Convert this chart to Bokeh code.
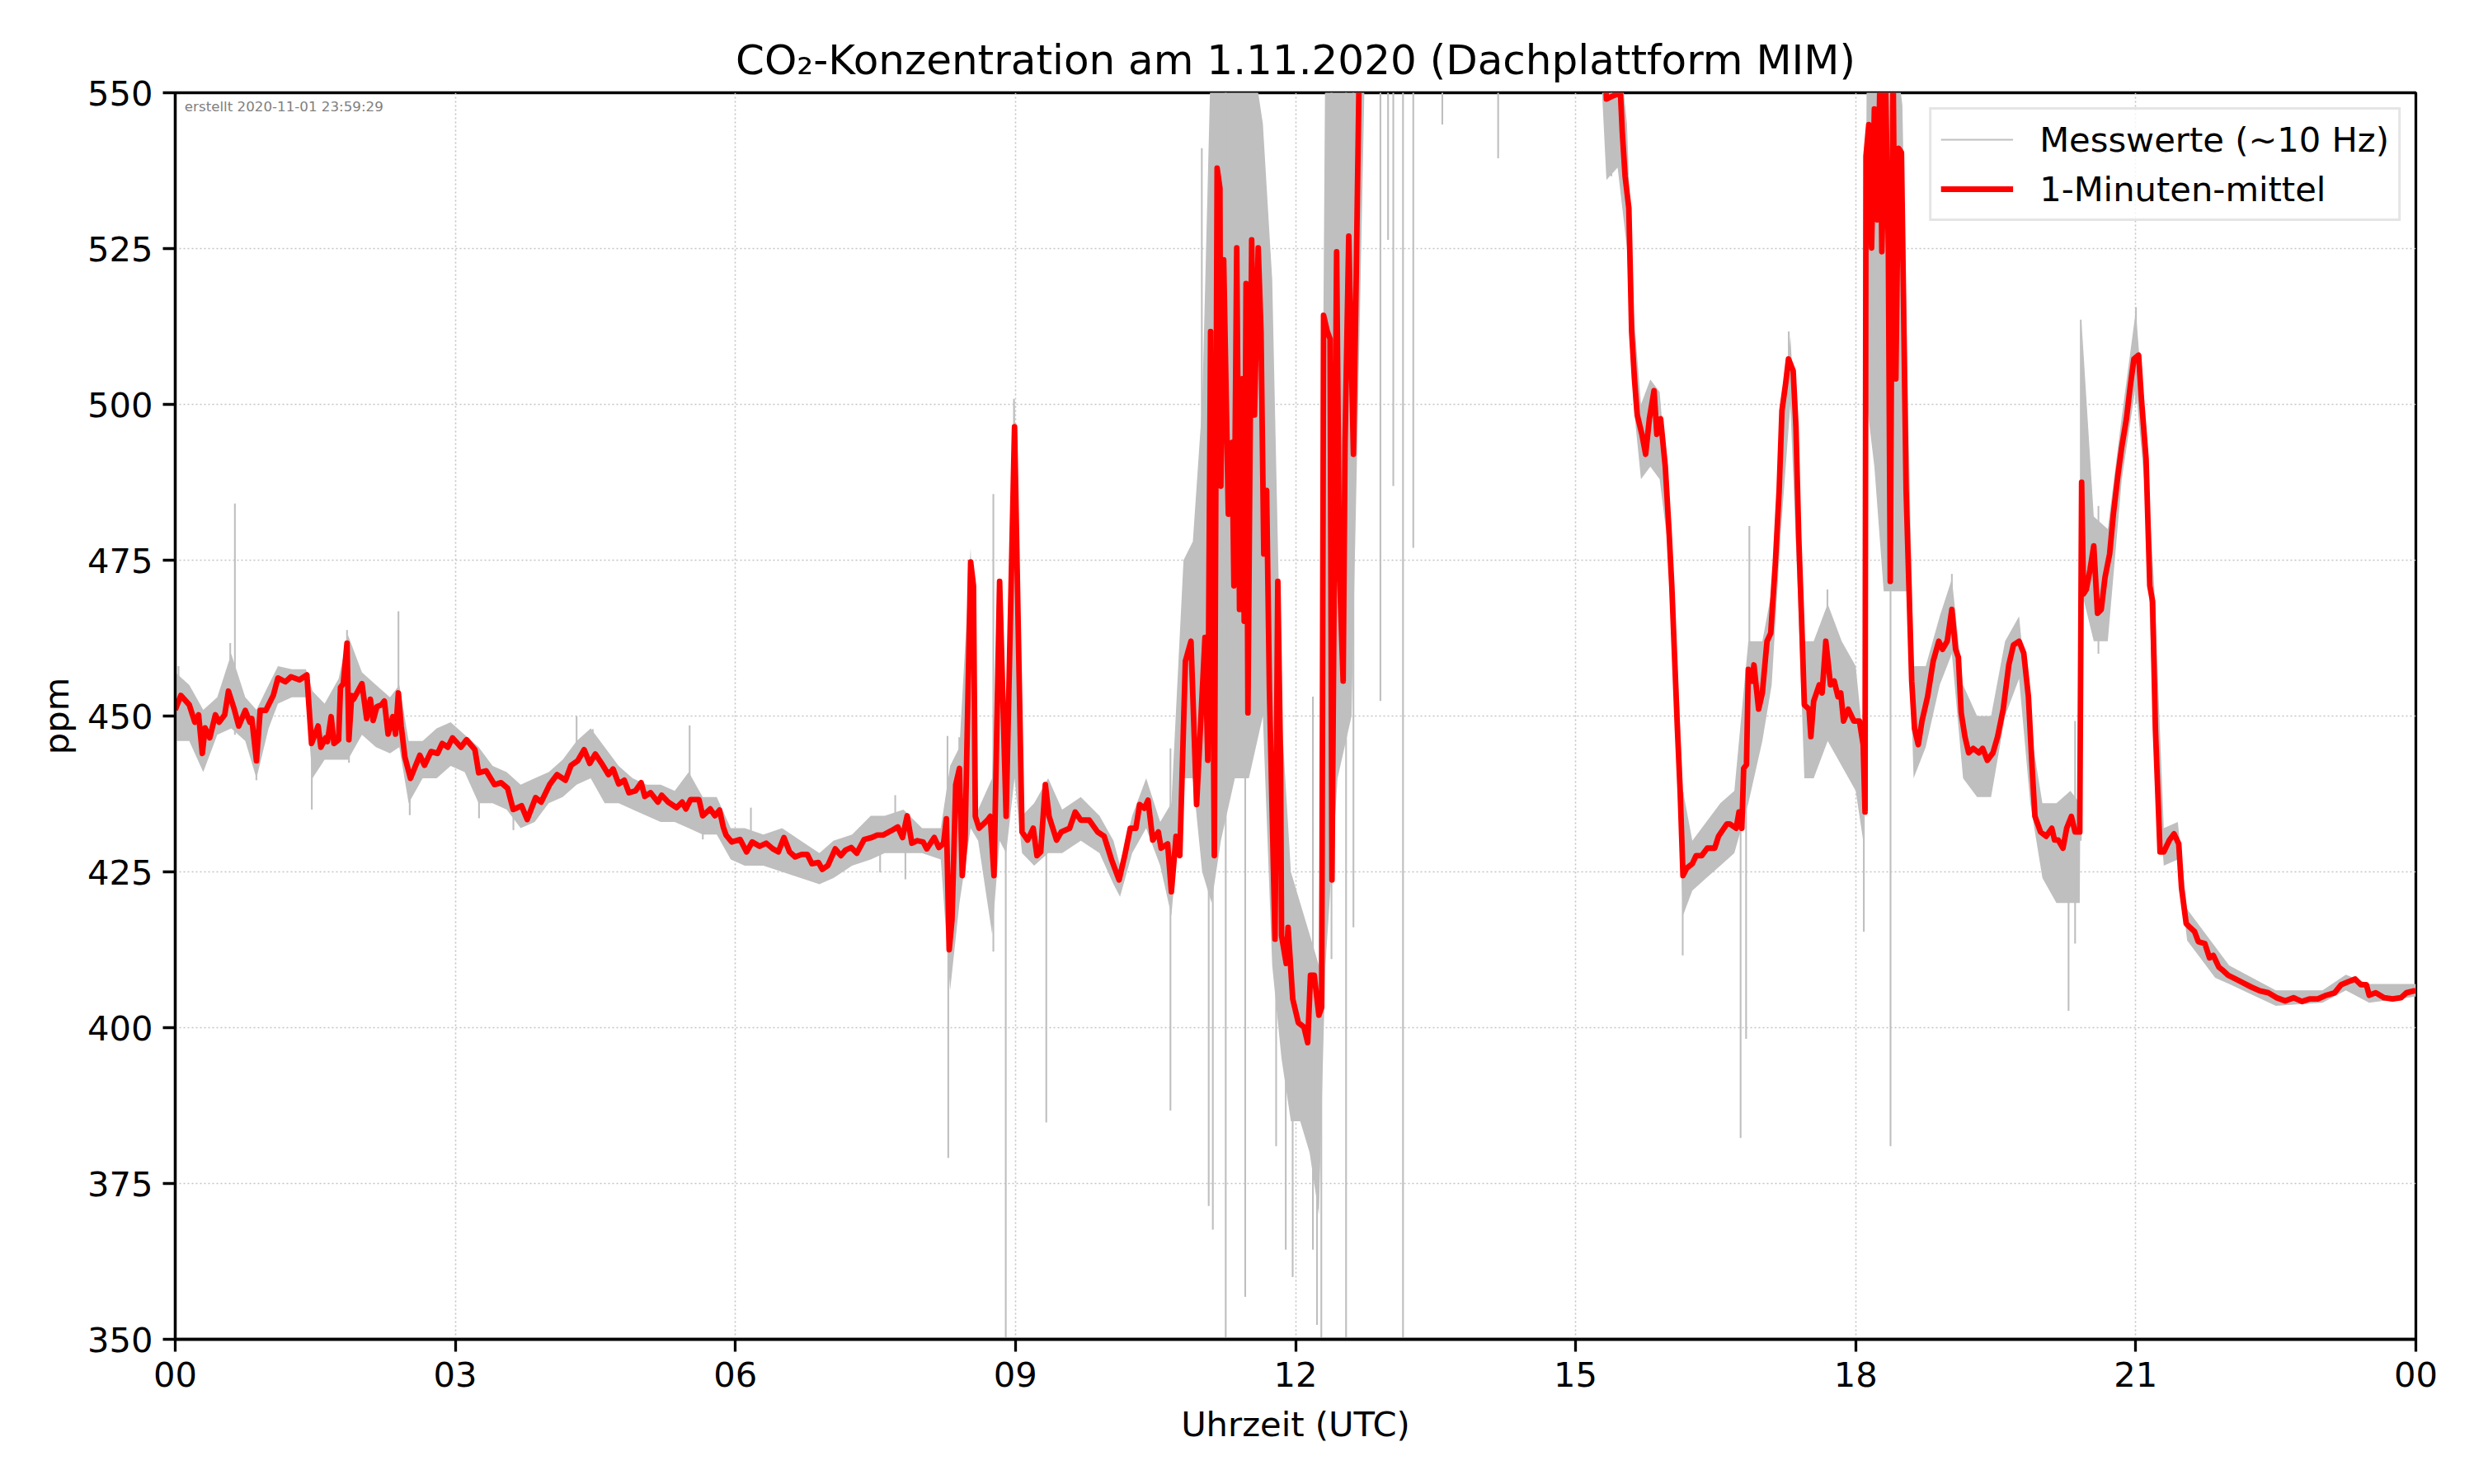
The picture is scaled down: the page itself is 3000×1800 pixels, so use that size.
from bokeh.plotting import figure
from bokeh.models import Range1d, FixedTicker, Legend, LegendItem, Label
from bokeh.embed import file_html
from bokeh.resources import INLINE

# ---------------- data ----------------
x_ticks = [0, 3, 6, 9, 12, 15, 18, 21, 24]
x_tick_labels = ["00", "03", "06", "09", "12", "15", "18", "21", "00"]
y_ticks = [350, 375, 400, 425, 450, 475, 500, 525, 550]

# 1-Minuten-mittel (hours UTC, ppm)
red_t = [0.00, 0.06, 0.15, 0.21, 0.25, 0.29, 0.32, 0.37, 0.43, 0.47, 0.53, 0.57, 0.63, 0.68, 0.75, 0.80, 0.82, 0.87, 0.91, 0.97,
         1.05, 1.10, 1.18, 1.24, 1.33, 1.41, 1.43, 1.46, 1.53, 1.56, 1.61, 1.63, 1.67, 1.70, 1.75, 1.77, 1.80, 1.84, 1.86, 1.89,
         1.91, 2.00, 2.05, 2.09, 2.12, 2.16, 2.21, 2.24, 2.28, 2.33, 2.36, 2.39, 2.42, 2.46, 2.52, 2.56, 2.62, 2.67, 2.74, 2.81,
         2.86, 2.92, 2.97, 3.06, 3.12, 3.21, 3.25, 3.33, 3.42, 3.49, 3.56, 3.62, 3.71, 3.77, 3.86, 3.92, 4.01, 4.09, 4.18, 4.24,
         4.31, 4.38, 4.44, 4.50, 4.58, 4.64, 4.69, 4.75, 4.81, 4.86, 4.93, 4.99, 5.03, 5.09, 5.17, 5.21, 5.28, 5.37, 5.43, 5.47,
         5.52, 5.61, 5.65, 5.73, 5.78, 5.83, 5.87, 5.90, 5.96, 6.05, 6.12, 6.18, 6.26, 6.33, 6.40, 6.46, 6.52, 6.58, 6.64, 6.71,
         6.77, 6.82, 6.89, 6.93, 6.99, 7.07, 7.13, 7.18, 7.24, 7.30, 7.38, 7.46, 7.52, 7.58, 7.67, 7.74, 7.79, 7.84, 7.89, 7.95,
         8.01, 8.05, 8.13, 8.18, 8.23, 8.26, 8.29, 8.32, 8.36, 8.40, 8.43, 8.46, 8.52, 8.55, 8.57, 8.61, 8.70, 8.73, 8.77, 8.83,
         8.90, 8.99, 9.07, 9.13, 9.19, 9.23, 9.27, 9.32, 9.36, 9.44, 9.49, 9.58, 9.64, 9.70, 9.79, 9.88, 9.95, 10.03, 10.11, 10.17,
         10.23, 10.29, 10.33, 10.38, 10.42, 10.47, 10.53, 10.56, 10.63, 10.67, 10.72, 10.76, 10.82, 10.88, 10.94, 11.03, 11.06, 11.09, 11.13, 11.16,
         11.19, 11.20, 11.23, 11.28, 11.32, 11.34, 11.37, 11.40, 11.43, 11.45, 11.47, 11.49, 11.53, 11.56, 11.60, 11.63, 11.66, 11.69, 11.72, 11.78,
         11.81, 11.84, 11.85, 11.90, 11.92, 11.97, 12.03, 12.09, 12.13, 12.16, 12.20, 12.25, 12.28, 12.30, 12.34, 12.37, 12.39, 12.44, 12.47, 12.51,
         12.53, 12.57, 12.62, 12.65, 12.68, 12.75, 15.25, 15.33, 15.40, 15.48, 15.50, 15.53, 15.57, 15.60, 15.63, 15.66, 15.71, 15.75, 15.79, 15.84,
         15.87, 15.91, 15.96, 16.00, 16.03, 16.09, 16.12, 16.15, 16.19, 16.25, 16.29, 16.35, 16.41, 16.49, 16.53, 16.62, 16.65, 16.72, 16.75, 16.78,
         16.80, 16.83, 16.85, 16.89, 16.91, 16.96, 17.00, 17.05, 17.09, 17.14, 17.18, 17.21, 17.25, 17.28, 17.33, 17.36, 17.39, 17.42, 17.45, 17.50,
         17.52, 17.55, 17.61, 17.64, 17.68, 17.73, 17.77, 17.81, 17.84, 17.87, 17.92, 17.98, 18.04, 18.08, 18.10, 18.11, 18.14, 18.17, 18.20, 18.23,
         18.26, 18.28, 18.32, 18.35, 18.37, 18.40, 18.43, 18.46, 18.49, 18.54, 18.57, 18.60, 18.63, 18.67, 18.71, 18.77, 18.83, 18.89, 18.93, 18.98,
         19.03, 19.07, 19.10, 19.13, 19.17, 19.21, 19.26, 19.32, 19.36, 19.41, 19.47, 19.52, 19.58, 19.64, 19.69, 19.75, 19.80, 19.85, 19.89, 19.92,
         19.98, 20.04, 20.10, 20.13, 20.17, 20.22, 20.26, 20.31, 20.35, 20.40, 20.42, 20.44, 20.47, 20.51, 20.55, 20.59, 20.63, 20.67, 20.72, 20.76,
         20.81, 20.85, 20.90, 20.94, 20.98, 21.03, 21.06, 21.11, 21.15, 21.18, 21.21, 21.26, 21.30, 21.36, 21.41, 21.46, 21.49, 21.54, 21.58, 21.63,
         21.67, 21.74, 21.79, 21.83, 21.89, 21.94, 21.99, 22.07, 22.16, 22.24, 22.33, 22.42, 22.51, 22.60, 22.69, 22.78, 22.86, 22.95, 23.04, 23.13,
         23.20, 23.28, 23.35, 23.41, 23.47, 23.50, 23.57, 23.66, 23.75, 23.84, 23.90, 23.98, 24.00]
red_v = [451.0, 453.3, 451.8, 449.0, 450.2, 444.0, 448.1, 446.5, 450.2, 449.0, 450.2, 454.0, 451.2, 448.4, 450.9, 449.0, 449.6, 442.8, 450.9, 450.9,
         453.3, 456.1, 455.5, 456.3, 455.8, 456.6, 452.1, 445.6, 448.4, 445.0, 446.5, 445.9, 449.9, 445.6, 446.2, 454.6, 455.2, 461.7, 446.2, 453.3,
         452.7, 455.2, 449.6, 452.7, 449.3, 451.5, 451.8, 452.4, 447.1, 449.9, 447.1, 453.7, 448.4, 443.4, 440.0, 441.5, 443.7, 442.1, 444.3, 444.0,
         445.6, 445.0, 446.5, 445.0, 446.2, 444.6, 440.9, 441.2, 439.0, 439.3, 438.4, 435.0, 435.6, 433.4, 436.9, 436.2, 439.0, 440.6, 439.7, 442.1,
         442.8, 444.6, 442.4, 443.9, 442.1, 440.6, 441.5, 439.1, 439.7, 437.7, 438.0, 439.3, 437.1, 437.7, 436.2, 437.3, 436.2, 435.3, 436.2, 435.1,
         436.6, 436.6, 434.0, 435.1, 434.0, 434.9, 432.2, 430.9, 429.8, 430.2, 428.2, 429.8, 429.1, 429.6, 428.7, 428.2, 430.5, 428.2, 427.4, 427.8,
         427.8, 426.3, 426.5, 425.4, 426.0, 428.7, 427.6, 428.5, 428.9, 428.0, 430.2, 430.5, 430.9, 430.9, 431.6, 432.2, 430.5, 434.0, 429.6, 430.0,
         429.8, 428.7, 430.5, 428.9, 429.6, 433.5, 412.5, 417.3, 439.0, 441.6, 424.4, 430.1, 474.7, 470.9, 433.9, 432.0, 433.3, 433.9, 424.4, 471.6,
         433.9, 496.4, 431.4, 430.1, 432.0, 427.6, 428.2, 439.0, 433.9, 430.1, 431.4, 432.0, 434.6, 433.3, 433.3, 431.4, 430.7, 426.9, 423.7, 427.6,
         432.0, 432.0, 435.8, 435.2, 436.5, 430.1, 431.4, 428.8, 429.5, 421.8, 430.7, 427.6, 458.8, 462.0, 435.8, 462.6, 442.9, 511.7, 427.6, 537.9,
         534.7, 486.9, 523.2, 482.4, 493.9, 470.9, 525.1, 467.1, 504.1, 465.2, 519.4, 450.5, 526.4, 498.3, 525.1, 511.7, 476.0, 486.2, 454.3, 414.2,
         471.6, 441.6, 414.8, 410.3, 416.1, 404.6, 400.8, 400.1, 397.6, 408.4, 408.4, 402.0, 403.3, 514.3, 511.7, 510.5, 423.7, 524.5, 473.5, 455.6,
         493.9, 527.0, 492.0, 520.7, 552.0, 580.0, 580.0, 549.0, 549.5, 550.0, 543.6, 536.6, 531.5, 511.7, 504.1, 498.3, 495.2, 492.0, 497.7, 502.2,
         495.2, 497.7, 490.1, 479.8, 470.9, 448.0, 437.8, 424.4, 425.6, 426.3, 427.6, 427.6, 428.8, 428.8, 430.7, 432.7, 432.7, 432.0, 434.6, 432.0,
         441.6, 442.2, 457.5, 455.6, 458.2, 451.1, 453.7, 462.0, 463.3, 474.7, 486.2, 499.0, 503.4, 507.3, 505.4, 496.4, 478.6, 465.8, 451.8, 451.1,
         446.7, 452.4, 455.0, 453.7, 462.0, 455.0, 455.6, 453.1, 453.7, 449.2, 451.1, 449.2, 449.2, 445.4, 434.6, 539.8, 544.9, 525.1, 547.4, 529.6,
         552.0, 524.5, 552.0, 524.5, 471.6, 555.0, 504.1, 541.1, 540.4, 486.2, 470.9, 455.6, 448.0, 445.4, 449.2, 453.1, 458.8, 462.0, 460.7, 462.0,
         467.1, 460.7, 459.4, 450.5, 446.7, 444.1, 444.8, 444.1, 444.8, 442.9, 444.1, 446.7, 451.1, 458.2, 461.4, 462.0, 460.1, 453.1, 441.6, 433.9,
         431.4, 430.7, 432.0, 430.1, 430.1, 428.8, 432.0, 433.9, 431.4, 431.4, 487.5, 469.6, 470.3, 473.5, 477.3, 466.5, 467.1, 472.2, 476.0, 482.4,
         488.8, 493.2, 497.7, 502.8, 507.3, 507.9, 501.0, 491.3, 470.9, 468.4, 448.0, 428.2, 428.2, 430.1, 431.1, 429.5, 422.4, 416.7, 416.1, 415.4,
         413.8, 413.5, 411.2, 411.6, 409.7, 409.1, 408.4, 407.8, 407.1, 406.5, 405.9, 405.6, 404.8, 404.3, 404.8, 404.2, 404.6, 404.6, 405.2, 405.6,
         406.9, 407.4, 407.8, 406.9, 406.9, 405.2, 405.6, 404.8, 404.6, 404.8, 405.6, 405.9, 405.9]

# Messwerte (~10 Hz): envelope of the raw samples (hours, low ppm, high ppm)
gray_t = [0.00, 0.15, 0.30, 0.45, 0.60, 0.75, 0.87, 1.00, 1.10, 1.25, 1.40, 1.47, 1.60, 1.75, 1.85, 2.00, 2.15, 2.30, 2.40, 2.50,
          2.65, 2.80, 2.95, 3.10, 3.25, 3.40, 3.55, 3.70, 3.85, 4.00, 4.15, 4.30, 4.45, 4.60, 4.75, 4.90, 5.05, 5.20, 5.35, 5.50,
          5.65, 5.80, 5.95, 6.10, 6.30, 6.50, 6.70, 6.90, 7.05, 7.25, 7.45, 7.60, 7.80, 8.00, 8.20, 8.30, 8.40, 8.52, 8.60, 8.75,
          8.83, 8.90, 8.99, 9.07, 9.20, 9.35, 9.50, 9.70, 9.90, 10.05, 10.12, 10.25, 10.40, 10.55, 10.67, 10.80, 10.90, 11.00, 11.10, 11.20,
          11.35, 11.50, 11.65, 11.75, 11.85, 11.95, 12.05, 12.15, 12.25, 12.32, 12.45, 12.60, 12.67, 12.75, 15.25, 15.33, 15.45, 15.55, 15.62, 15.70,
          15.80, 15.90, 16.00, 16.10, 16.15, 16.25, 16.40, 16.55, 16.70, 16.85, 17.00, 17.10, 17.20, 17.30, 17.38, 17.45, 17.55, 17.70, 17.85, 18.00,
          18.08, 18.12, 18.20, 18.30, 18.40, 18.50, 18.56, 18.62, 18.75, 18.90, 19.03, 19.15, 19.30, 19.45, 19.60, 19.75, 19.87, 20.00, 20.15, 20.30,
          20.40, 20.42, 20.55, 20.70, 20.85, 21.00, 21.10, 21.20, 21.30, 21.45, 21.55, 21.70, 21.85, 22.00, 22.50, 23.00, 23.25, 23.50, 24.00]
gray_lo = [446, 446, 441, 447, 448, 446, 440, 448, 452, 453, 453, 440, 443, 443, 443, 447, 445, 444, 445, 436,
           440, 440, 442, 441, 436, 436, 435, 432, 433, 436, 437, 439, 440, 436, 436, 435, 434, 433, 433, 432,
           431, 431, 427, 426, 426, 425, 424, 423, 424, 426, 427, 428, 428, 428, 427, 406, 420, 432, 430, 415,
           430, 428, 440, 428, 426, 428, 428, 430, 428, 423, 421, 428, 432, 426, 418, 440, 440, 425, 420, 430,
           440, 440, 450, 410, 395, 385, 385, 380, 370, 410, 440, 450, 500, 560, 560, 536, 538, 525, 500, 488,
           490, 488, 476, 436, 418, 422, 424, 426, 428, 436, 446, 455, 480, 500, 470, 440, 440, 446, 442, 438,
           430, 500, 490, 470, 470, 470, 470, 440, 445, 455, 460, 440, 437, 437, 450, 456, 436, 424, 420, 420,
           420, 470, 462, 462, 488, 503, 486, 446, 426, 427, 414, 411, 408, 407, 403.5, 404, 406, 404, 405]
gray_hi = [457, 455, 451, 453, 460, 453, 451, 455, 458, 457.5, 457.5, 454, 452, 456, 463, 457, 455, 453, 455, 446,
           446, 448, 449, 447, 445, 442, 441, 439, 440, 441, 443, 446, 448, 445, 442, 440, 439, 439, 438, 441,
           437, 437, 432, 432, 431, 432, 430, 428, 430, 431, 434, 434, 435, 432, 432, 442, 445, 477, 435, 440,
           472, 437, 501, 434, 436, 440, 435, 437, 434, 430, 426, 434, 440, 433, 436, 475, 478, 500, 560, 560,
           560, 560, 545, 520, 450, 425, 420, 415, 410, 560, 560, 560, 560, 600, 600, 560, 560, 545, 515, 500,
           504, 502, 484, 455, 438, 430, 433, 436, 438, 462, 462, 470, 492, 511, 490, 462, 462, 468, 462, 458,
           446, 560, 560, 560, 560, 548, 500, 458, 458, 466, 472, 455, 450, 450, 462, 466, 448, 436, 436, 438,
           436, 513, 482, 480, 498, 515, 496, 470, 432, 433, 419, 416, 413, 410, 406, 406, 408.5, 407, 407]

# isolated raw-sample excursions (hours, low ppm, high ppm)
spike_t = [0.035, 0.589, 0.639, 0.869, 1.463, 1.840, 1.861, 2.391, 2.512, 3.254, 3.622, 4.299, 4.472, 5.510, 5.651, 6.166, 7.550, 7.712, 7.821, 8.272,
           8.280, 8.398, 8.763, 8.896, 8.984, 9.330, 10.660, 10.996, 11.070, 11.114, 11.252, 11.461, 11.792, 11.895, 11.969, 12.186, 12.230, 12.276, 12.385, 12.541,
           12.620, 12.909, 12.991, 13.047, 13.151, 13.261, 13.572, 14.170, 15.383, 16.147, 16.767, 16.826, 16.861, 17.283, 17.697, 18.087, 18.373, 19.030, 20.280, 20.350,
           20.411, 20.600, 21.002]
spike_lo = [448, 448, 447, 439.7, 435.0, 450, 442.5, 445, 434.1, 433.6, 431.7, 440, 440, 436, 430.2, 428, 424.9, 430, 423.8, 420,
            379.1, 430, 412.2, 345, 440, 384.8, 386.7, 440, 371.4, 367.6, 345, 356.8, 381, 364.4, 360, 364.4, 352.3, 345, 411, 345,
            416.1, 452.4, 526.4, 486.9, 345, 477.0, 544.9, 539.5, 536.6, 411.6, 382.3, 398.2, 440, 500, 450, 415.4, 381, 460, 402.7, 413.5,
            430, 460, 500]
spike_hi = [458, 461.7, 484.1, 450, 450, 463.8, 455, 466.8, 444, 442, 437, 450, 447.9, 448.5, 436, 435.3, 431, 437.3, 432, 446.8,
            430, 446.6, 485.6, 430, 500.9, 432, 444.8, 541.1, 440, 440, 560, 450, 460, 420, 420, 453.1, 410, 410, 560, 560,
            560, 560, 560, 560, 560, 560, 560, 560, 560, 437.8, 440, 445, 480.5, 511.7, 470.3, 440, 480, 472.8, 430, 449.2,
            513.6, 483.7, 515.6]

# ---------------- figure ----------------
FONT = "DejaVu Sans"
p = figure(width=2992, height=1792, output_backend="svg", toolbar_location=None,
           x_range=Range1d(0, 24), y_range=Range1d(350, 550),
           min_border_left=212, min_border_right=63, min_border_top=112, min_border_bottom=168)

p.title.text = "CO\u2082-Konzentration am 1.11.2020 (Dachplattform MIM)"
p.title.text_font = FONT
p.title.text_font_size = "50px"
p.title.text_font_style = "normal"
p.title.text_color = "black"
p.title.align = "center"
p.title.standoff = 22

gray = "#bfbfbf"
p.varea(x=gray_t, y1=gray_lo, y2=gray_hi, fill_color=gray, fill_alpha=1.0)
r_gray = p.segment(x0=spike_t, y0=spike_lo, x1=spike_t, y1=spike_hi, line_color=gray, line_width=2.1)
r_red = p.line(red_t, red_v, line_color="#ff0000", line_width=6.8, line_join="round")

# axes
for ax in (p.xaxis[0], p.yaxis[0]):
    ax.axis_line_width = 3.3
    ax.major_tick_line_width = 3.3
    ax.major_tick_out = 15
    ax.major_tick_in = 0
    ax.minor_tick_line_color = None
    ax.major_label_text_font = FONT
    ax.major_label_text_font_size = "41.67px"
    ax.major_label_text_color = "black"
    ax.axis_label_text_font = FONT
    ax.axis_label_text_font_size = "41.67px"
    ax.axis_label_text_font_style = "normal"
    ax.axis_label_text_color = "black"
    ax.major_label_standoff = 12

p.xaxis.ticker = FixedTicker(ticks=x_ticks)
p.xaxis.major_label_overrides = {t: l for t, l in zip(x_ticks, x_tick_labels)}
p.yaxis.ticker = FixedTicker(ticks=y_ticks)
p.xaxis.axis_label = "Uhrzeit (UTC)"
p.yaxis.axis_label = "ppm"
p.xaxis.axis_label_standoff = 18
p.yaxis.axis_label_standoff = 10

p.grid.grid_line_color = "#c4c4c4"
p.grid.grid_line_width = 1.6
p.grid.grid_line_dash = "2 3"

p.outline_line_color = "black"
p.outline_line_width = 3.3
p.outline_line_alpha = 1.0

p.add_layout(Label(x=0.1, y=549.2, text="erstellt 2020-11-01 23:59:29", text_font=FONT,
                   text_font_size="16.7px", text_color="#808080", text_baseline="top"))

legend = Legend(items=[LegendItem(label="Messwerte (~10 Hz)", renderers=[r_gray]),
                       LegendItem(label="1-Minuten-mittel", renderers=[r_red])],
                location="top_right")
legend.margin = 18
legend.padding = 11
legend.spacing = 10
legend.glyph_width = 88
legend.glyph_height = 50
legend.label_height = 50
legend.label_standoff = 32
legend.label_text_font = FONT
legend.label_text_font_size = "41.67px"
legend.label_text_color = "black"
legend.label_text_baseline = "middle"
legend.border_line_color = "#cccccc"
legend.border_line_width = 3
legend.background_fill_alpha = 0.8
p.add_layout(legend)

open("out.html", "w").write(file_html(p, INLINE))
